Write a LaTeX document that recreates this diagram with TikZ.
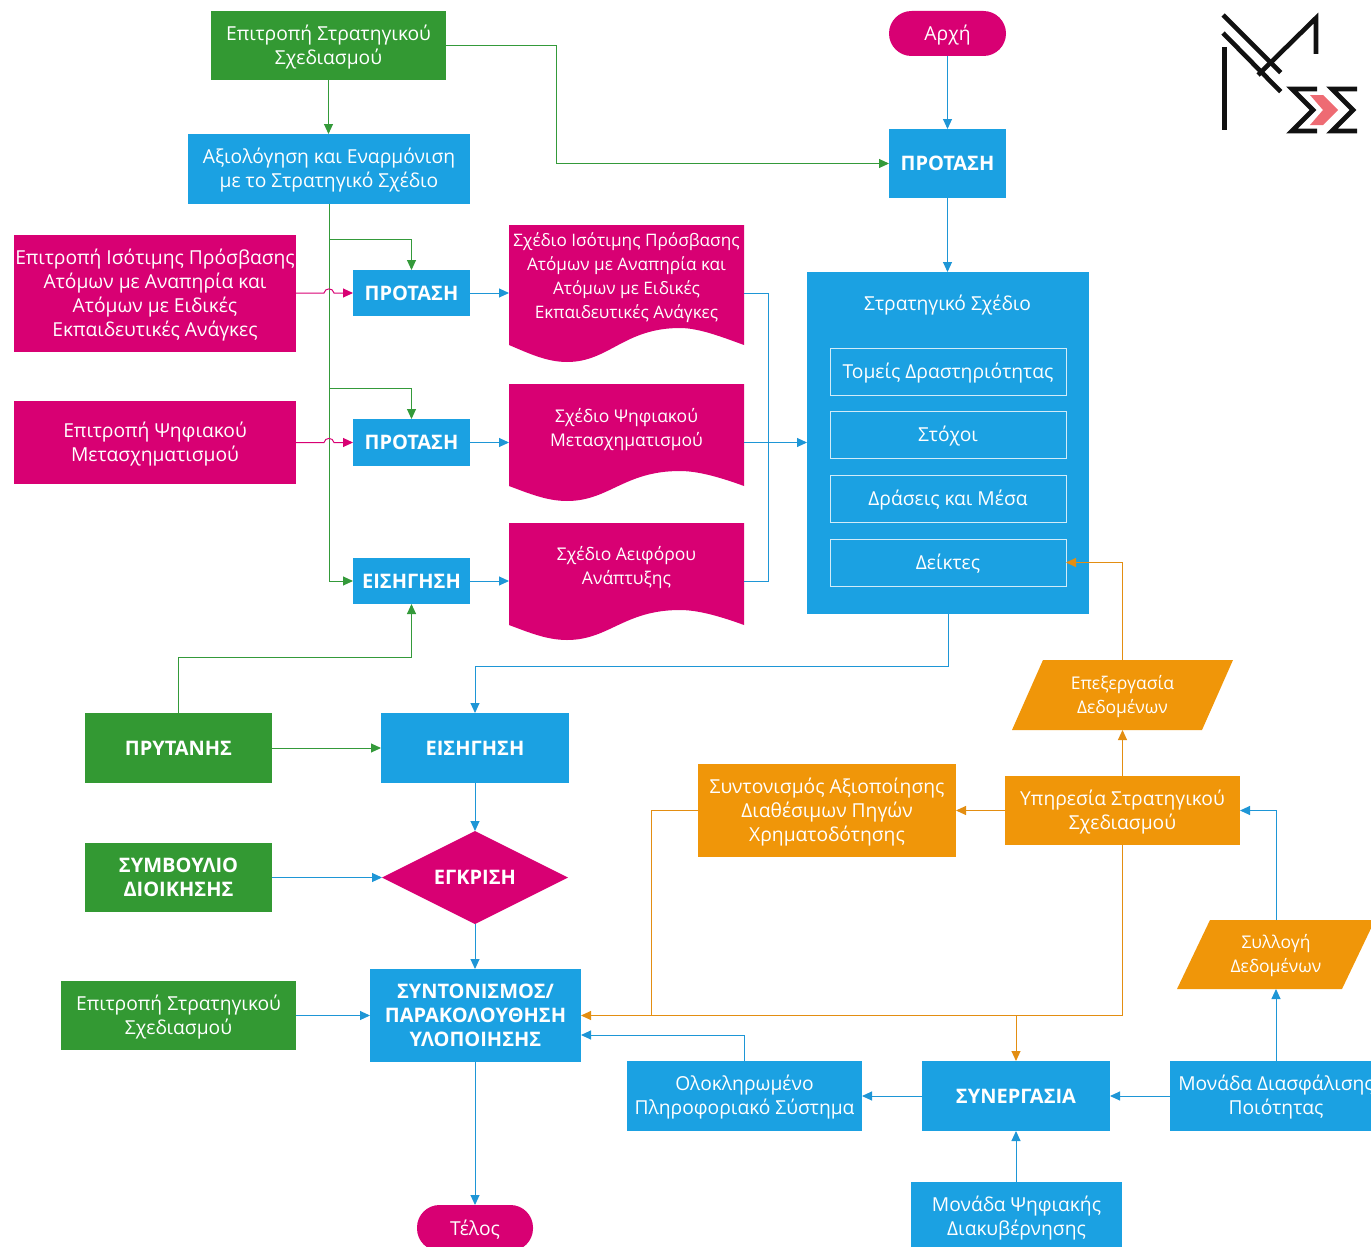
\documentclass[tikz,border=0pt]{standalone}
\usepackage{fontspec}
\setmainfont{Open Sans}
\usetikzlibrary{arrows.meta,shapes.geometric,calc}
\definecolor{cblue}{HTML}{1BA1E2}
\definecolor{cmag}{HTML}{D80073}
\definecolor{cgreen}{HTML}{339933}
\definecolor{corange}{HTML}{F09609}
\definecolor{lblue}{HTML}{1E96D6}
\definecolor{lorange}{HTML}{E38E12}
\definecolor{lgreen}{HTML}{349A3A}
\definecolor{cpink}{HTML}{EE6B73}
\definecolor{logoblack}{HTML}{111111}
% regular box: the text is a centred label, set a little low as in the reference
\newcommand{\bx}[7]{\node[#1,minimum width={(#5-#3)*1pt},minimum height={(#6-#4)*1pt},label={[lab]center:{#7}}] (#2) at ({(#3+#5)/2},{(#4+#6)/2}) {};}
% bold box
\newcommand{\bxb}[7]{\node[#1,boldt,minimum width={(#5-#3)*1pt},minimum height={(#6-#4)*1pt}] (#2) at ({(#3+#5)/2},{(#4+#6)/2}) {#7};}
\newcommand{\docshape}[6]{%
 % name, x0, ytop, x1, ybottom, wave amplitude
 \fill[cmag] (#2,#3) -- (#4,#3) -- (#4,#5-#6) .. controls (#4-22,#5-#6-8) and (#4-45,#5-2*#6) .. (#4-64,#5-2*#6) .. controls (#2+115,#5-2*#6) and (#2+100,#5) .. (#2+58,#5) .. controls (#2+38,#5) and (#2+20,#5-#6/2) .. (#2,#5-#6) -- cycle;
 \node[hollow,minimum width={(#4-#2)*1pt},minimum height={(#5-#3)*1pt}] (#1) at ({(#2+#4)/2},{(#3+#5)/2}) {};
}
\newcommand{\para}[7]{%
 % name, left-bottom x, top y, width, bottom y, slant, text
 \fill[corange] (#2,#5) -- (#2+#6,#3) -- (#2+#6+#4,#3) -- (#2+#4,#5) -- cycle;
 \node[base,minimum width={(#4+#6)*1pt},minimum height={(#5-#3)*1pt},label={[lab,small]center:{#7}}] (#1) at ({#2+(#4+#6)/2},{(#3+#5)/2}) {};
}
\tikzset{
 base/.style={inner sep=0pt,outer sep=0pt,align=center,text=white,font=\fontsize{19.25}{24}\selectfont},
 lab/.style={base,yshift=-1.3pt},
 tx/.style={base},
 small/.style={font=\fontsize{17.5}{24}\selectfont},
 smaller/.style={font=\fontsize{17.2}{24}\selectfont},
 hollow/.style={base},
 boldt/.style={font=\fontsize{20}{24}\selectfont\bfseries},
 bbox/.style={base,fill=cblue},
 mbox/.style={base,fill=cmag},
 gbox/.style={base,fill=cgreen},
 obox/.style={base,fill=corange},
 sub/.style={base,draw=white!80!cblue,line width=0.9pt},
 pill/.style={base,fill=cmag,rounded corners=22.5pt},
 conn/.style={line width=1pt,-{Triangle[length=10pt,width=9pt]}},
 plain/.style={line width=1pt},
 b/.style={conn,lblue},
 g/.style={conn,lgreen},
 m/.style={conn,cmag},
 o/.style={conn,lorange},
 logo/.style={draw=logoblack,line width=4.6pt},
 logos/.style={draw=logoblack,line width=4.8pt,miter limit=10},
}
\begin{document}
\begin{tikzpicture}[x=1pt,y=-1pt]
\useasboundingbox (0,0) rectangle (1371,1247);
\clip (0,0) rectangle (1371,1247);
% nodes
\bx{gbox}{top}{211}{11}{446}{80}{Επιτροπή Στρατηγικού\\Σχεδιασμού}
\bx{bbox}{eval}{188}{134}{470}{204}{Αξιολόγηση και Εναρμόνιση\\με το Στρατηγικό Σχέδιο}
\bx{pill}{start}{889}{11}{1006}{56}{Αρχή}
\bxb{bbox}{ptop}{889}{129}{1006}{198}{ΠΡΟΤΑΣΗ}
\bx{bbox}{strat}{807}{272}{1089}{614}{}
\node[tx] (strattitle) at (947.5,305.5) {Στρατηγικό Σχέδιο};
\bx{sub}{s1}{830}{348}{1066}{395}{Τομείς Δραστηριότητας}
\bx{sub}{s2}{830}{411}{1066}{458}{Στόχοι}
\bx{sub}{s3}{830}{475}{1066}{522}{Δράσεις και Μέσα}
\bx{sub}{s4}{830}{539}{1066}{586}{Δείκτες}
\bx{mbox}{red1}{14}{235}{296}{352}{Επιτροπή Ισότιμης Πρόσβασης\\Ατόμων με Αναπηρία και\\Ατόμων με Ειδικές\\Εκπαιδευτικές Ανάγκες}
\bx{mbox}{red2}{14}{401}{296}{484}{Επιτροπή Ψηφιακού\\Μετασχηματισμού}
\bxb{bbox}{p1}{353}{270}{470}{316}{ΠΡΟΤΑΣΗ}
\bxb{bbox}{p2}{353}{419}{470}{466}{ΠΡΟΤΑΣΗ}
\bxb{bbox}{p3}{353}{558}{470}{604}{ΕΙΣΗΓΗΣΗ}
\docshape{d1}{509}{225}{744}{362}{17}
\docshape{d2}{509}{384}{744}{501}{15}
\docshape{d3}{509}{523}{744}{640}{15}
\node[tx,smaller] (d1t) at (626.5,278) {Σχέδιο Ισότιμης Πρόσβασης\\Ατόμων με Αναπηρία και\\Ατόμων με Ειδικές\\Εκπαιδευτικές Ανάγκες};
\node[tx,small] (d2t) at (626.5,429.5) {Σχέδιο Ψηφιακού\\Μετασχηματισμού};
\node[tx,small] (d3t) at (626.5,568) {Σχέδιο Αειφόρου\\Ανάπτυξης};
\bxb{gbox}{pryt}{85}{713}{272}{783}{ΠΡΥΤΑΝΗΣ}
\bxb{bbox}{eis}{381}{713}{569}{783}{ΕΙΣΗΓΗΣΗ}
\bxb{gbox}{symv}{85}{843}{272}{912}{ΣΥΜΒΟΥΛΙΟ\\ΔΙΟΙΚΗΣΗΣ}
\node[base,boldt,fill=cmag,diamond,aspect=2,minimum width=186pt,minimum height=93pt] (egk) at (475,877.5) {ΕΓΚΡΙΣΗ};
\bx{gbox}{top2}{61}{981}{296}{1050}{Επιτροπή Στρατηγικού\\Σχεδιασμού}
\bxb{bbox}{synt}{370}{969}{581}{1062}{ΣΥΝΤΟΝΙΣΜΟΣ/\\ΠΑΡΑΚΟΛΟΥΘΗΣΗ\\ΥΛΟΠΟΙΗΣΗΣ}
\bx{pill}{end}{417}{1205}{533}{1251}{Τέλος}
\bx{obox}{fund}{698}{764}{956}{857}{Συντονισμός Αξιοποίησης\\Διαθέσιμων Πηγών\\Χρηματοδότησης}
\bx{obox}{yp}{1005}{776}{1240}{845}{Υπηρεσία Στρατηγικού\\Σχεδιασμού}
\bx{bbox}{ois}{627}{1061}{862}{1131}{Ολοκληρωμένο\\Πληροφοριακό Σύστημα}
\bxb{bbox}{syn}{922}{1061}{1110}{1131}{ΣΥΝΕΡΓΑΣΙΑ}
\bx{bbox}{modip}{1170}{1061}{1382}{1131}{Μονάδα Διασφάλισης\\Ποιότητας}
\bx{bbox}{dig}{911}{1182}{1122}{1252}{Μονάδα Ψηφιακής\\Διακυβέρνησης}
\para{proc}{1012}{660}{190}{730}{31}{Επεξεργασία\\Δεδομένων}
\para{coll}{1177}{920}{165}{989}{33}{Συλλογή\\Δεδομένων}
% connectors
\coordinate (jb) at (768,442);
\coordinate (ja) at (651,1015.5);
\coordinate (jo) at (1016,1015.5);
\coordinate (hop1) at (eval.south |- p1.west);
\coordinate (hop2) at (eval.south |- p2.west);
\coordinate (bend1) at (556,0);
\draw[g] (top.south) -- (top.south |- eval.north);
\draw[g] (top.east) -| (bend1 |- ptop.west) -- (ptop.west);
\draw[b] (start) -- (ptop);
\draw[b] (ptop.south) -- (ptop.south |- strat.north);
\draw[g] (eval.south) |- (p3.west);
\draw[g] (eval.south |- 0,239) -| (p1.north);
\draw[g] (eval.south |- 0,388) -| (p2.north);
\draw[m] (red1.east |- hop1) -- ($(hop1)+(-5,0)$) .. controls +(1,-5.5) and +(-1,-5.5) .. ($(hop1)+(5,0)$) -- (p1.west);
\draw[m] (red2.east |- hop2) -- ($(hop2)+(-5,0)$) .. controls +(1,-5.5) and +(-1,-5.5) .. ($(hop2)+(5,0)$) -- (p2.west);
\draw[b] (p1.east) -- (p1.east -| d1.west);
\draw[b] (p2.east) -- (p2.east -| d2.west);
\draw[b] (p3.east) -- (p3.east -| d3.west);
\draw[plain,lblue] (d1.east) -| (jb);
\draw[plain,lblue] (d3.east) -| (jb);
\draw[b] (d2.east) -- (strat.west |- d2.east);
\draw[b] (strat.south) |- (0,666 -| eis.north) -- (eis.north);
\draw[g] (pryt.north) |- (0,657 -| p3.south) -- (p3.south);
\draw[g] (pryt.east) -- (pryt.east -| eis.west);
\draw[b] (eis.south) -- (eis.south |- egk.north);
\draw[b] (symv.east) -- (symv.east -| egk.west);
\draw[b] (egk.south) -- (egk.south |- synt.north);
\draw[b] (top2.east) -- (top2.east -| synt.west);
\draw[b] (end.north |- synt.south) -- (end.north);
\draw[o] (yp.west) -- (yp.west -| fund.east);
\draw[plain,lorange] (fund.west) -| (ja);
\draw[o] (yp.south) |- (synt.east);
\draw[o] (jo) -- (syn.north);
\draw[o] (proc.north) |- (s4.east);
\draw[o] (yp.north) -- (proc.south -| yp.north);
\draw[b] (ois.north) |- (synt.east |- 0,1035);
\draw[b] (syn.west) -- (ois.east);
\draw[b] (modip.west) -- (syn.east);
\draw[b] (dig.north -| syn.south) -- (syn.south);
\draw[b] (modip.north) -- (coll.south -| modip.north);
\draw[b] (coll.north -| modip.north) |- (yp.east);
% logo
\draw[logo] (1224.7,47) -- (1224.7,130);
\draw[logo] (1223,15) -- (1280.7,72.7);
\draw[logo] (1223,33) -- (1280.7,91.7);
\draw[logo] (1258,75) -- (1316,18) -- (1316,54);
\fill[cpink] (1310,95) -- (1323,95) -- (1338,110) -- (1323,125) -- (1310,125) -- (1323,110) -- cycle;
\draw[logos] (1317,89) -- (1292,89) -- (1313,110) -- (1292,131) -- (1317,131);
\draw[logos] (1357,89) -- (1332,89) -- (1353,110) -- (1332,131) -- (1357,131);
\end{tikzpicture}
\end{document}
